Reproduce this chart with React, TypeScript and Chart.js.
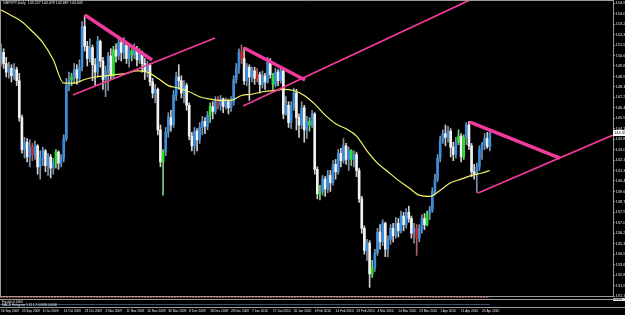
import React, { useEffect, useRef } from "react";
import { Chart, registerables } from "chart.js";

Chart.register(...registerables);

const TITLE = "GBPJPY,Daily  143.227 144.478 142.887 144.345";
const LAST_PRICE = "144.35";

const DATE_LABELS = [
  "16 Sep 2009", "25 Sep 2009", "6 Oct 2009", "14 Oct 2009", "23 Oct 2009", "3 Nov 2009",
  "11 Nov 2009", "20 Nov 2009", "30 Nov 2009", "8 Dec 2009", "18 Dec 2009", "28 Dec 2009",
  "7 Jan 2010", "17 Jan 2010", "26 Jan 2010", "4 Feb 2010", "14 Feb 2010", "23 Feb 2010",
  "4 Mar 2010", "14 Mar 2010", "23 Mar 2010", "1 Apr 2010", "11 Apr 2010", "20 Apr 2010",
];
const BARS_PER_LABEL = 8;

const Y_TICKS = [
  154.9, 154.05, 153.2, 152.35, 151.5, 150.65, 149.8, 148.95, 148.1, 147.25, 146.4, 145.55,
  144.7, 143.85, 143.0, 142.15, 141.3, 140.45, 139.6, 138.75, 137.9, 137.05, 136.2, 135.35,
  134.5, 133.65, 132.8, 131.95, 131.1,
];

const FIRST_OPEN = 150.2;
const CLOSE = [
  150.9, 150.0, 149.3, 149.6, 149.0, 149.5, 148.6, 145.6, 143.0, 143.6,
  142.4, 143.2, 142.6, 143.3, 141.6, 142.3, 142.9, 141.7, 142.4, 141.5,
  141.9, 142.8, 141.9, 142.3, 143.9, 148.2, 148.7, 148.9, 149.5, 148.8,
  149.7, 153.0, 151.4, 150.4, 151.3, 149.9, 149.3, 151.8, 150.2, 148.7,
  149.4, 150.6, 149.0, 151.1, 150.6, 151.7, 150.9, 151.5, 150.4, 151.0,
  150.7, 151.2, 150.3, 150.8, 150.0, 149.4, 149.9, 148.5, 147.6, 147.9,
  144.6, 142.0, 142.8, 144.4, 145.6, 145.0, 147.4, 148.9, 148.6, 147.6,
  148.2, 146.6, 144.1, 143.3, 144.5, 143.8, 144.8, 145.3, 144.9, 145.8,
  146.5, 146.1, 146.9, 146.6, 147.1, 146.5, 146.9, 146.4, 146.9, 148.7,
  149.6, 150.9, 150.4, 148.6, 149.7, 148.9, 149.4, 148.8, 149.1, 148.3,
  149.0, 148.5, 150.2, 149.1, 148.3, 149.3, 148.6, 149.4, 145.9, 146.6,
  145.2, 146.5, 147.6, 145.6, 145.0, 146.4, 144.6, 145.3, 145.0, 145.9,
  141.4, 139.4, 139.6, 140.6, 139.8, 140.9, 140.3, 141.8, 141.2, 142.7,
  142.1, 143.3, 142.2, 142.9, 142.2, 142.6, 141.3, 139.0, 136.6, 134.8,
  135.4, 132.9, 133.4, 134.6, 136.3, 135.5, 137.0, 134.9, 135.7, 136.6,
  136.0, 137.0, 136.4, 137.6, 136.9, 137.9, 137.4, 136.2, 136.6, 135.8,
  136.6, 137.4, 136.9, 137.8, 138.1, 139.6, 140.6, 142.3, 143.8, 144.3,
  144.0, 144.5, 143.2, 142.6, 143.6, 144.1, 142.4, 144.0, 145.0, 143.3,
  141.2, 141.0, 141.6, 143.0, 143.4, 143.9, 143.23, 144.35,
];
const HIGH = [
  151.6, 151.2, 150.5, 150.1, 149.9, 150.0, 149.7, 149.2, 145.8, 144.0,
  143.9, 143.8, 143.5, 143.7, 143.4, 142.9, 143.2, 143.0, 142.7, 142.6,
  142.3, 143.0, 142.9, 142.6, 144.2, 148.8, 149.3, 149.2, 150.0, 149.9,
  150.3, 153.4, 153.9, 151.8, 152.0, 151.5, 150.4, 152.2, 151.9, 150.5,
  149.8, 150.9, 151.2, 151.4, 151.6, 152.2, 152.0, 152.1, 151.7, 151.4,
  151.2, 151.6, 151.4, 151.2, 151.0, 150.4, 150.2, 150.0, 148.8, 148.3,
  148.0, 145.0, 143.0, 144.8, 146.0, 146.2, 147.8, 149.3, 149.9, 149.0,
  148.6, 148.4, 146.8, 144.4, 144.8, 144.7, 145.2, 145.7, 145.6, 146.1,
  146.8, 146.9, 147.3, 147.3, 147.4, 147.2, 147.2, 147.1, 147.3, 149.0,
  150.0, 151.2, 151.5, 151.3, 150.0, 149.9, 149.7, 149.7, 149.6, 149.3,
  149.4, 149.2, 150.5, 150.4, 149.2, 149.6, 149.5, 149.8, 149.6, 147.3,
  146.9, 146.9, 148.0, 147.9, 145.9, 146.9, 146.6, 145.7, 145.6, 146.2,
  146.0, 141.6, 140.1, 140.9, 140.8, 141.3, 141.3, 142.1, 142.2, 143.0,
  143.1, 143.9, 143.5, 143.2, 143.0, 142.9, 142.8, 141.5, 139.2, 136.8,
  135.7, 135.6, 134.0, 134.9, 136.6, 136.9, 137.3, 137.1, 136.0, 136.9,
  137.0, 137.5, 137.4, 138.0, 137.9, 138.2, 138.4, 137.6, 137.0, 136.9,
  136.9, 137.7, 137.8, 138.0, 138.4, 139.9, 141.0, 142.6, 144.1, 144.6,
  145.0, 144.9, 144.7, 143.6, 144.0, 144.6, 144.3, 144.2, 145.2, 145.3,
  143.5, 141.8, 141.9, 143.3, 143.6, 144.3, 144.4, 144.48,
];
const LOW = [
  149.8, 149.6, 148.9, 148.8, 148.5, 148.7, 148.2, 145.3, 142.7, 142.3,
  142.0, 141.6, 142.1, 142.2, 141.0, 140.6, 141.7, 141.2, 140.9, 140.7,
  141.0, 141.5, 141.4, 141.6, 142.0, 143.7, 147.8, 148.2, 148.4, 148.3,
  148.6, 149.4, 151.0, 149.8, 150.1, 148.6, 148.2, 148.9, 149.7, 147.9,
  147.3, 147.8, 148.7, 148.8, 150.1, 150.3, 150.2, 150.4, 150.0, 149.7,
  150.2, 150.4, 149.8, 150.0, 149.3, 148.7, 148.9, 148.2, 147.2, 146.8,
  144.2, 141.6, 139.3, 142.5, 144.0, 144.5, 144.8, 147.0, 147.9, 147.2,
  146.8, 146.2, 143.8, 142.9, 142.6, 142.9, 143.5, 144.2, 144.3, 144.6,
  145.2, 145.5, 145.9, 146.3, 146.2, 146.0, 146.3, 145.9, 146.1, 146.6,
  148.4, 149.2, 150.0, 148.3, 148.2, 147.0, 148.5, 148.3, 148.5, 147.6,
  148.0, 147.9, 148.4, 148.8, 147.9, 148.1, 148.2, 148.4, 145.5, 145.8,
  144.8, 144.7, 146.2, 144.6, 144.0, 144.7, 143.6, 143.9, 144.5, 144.8,
  141.0, 139.0, 138.9, 139.3, 139.2, 139.5, 139.6, 140.1, 140.6, 141.0,
  141.6, 141.9, 141.8, 141.3, 141.7, 141.6, 140.8, 138.7, 136.2, 134.5,
  134.0, 131.8, 132.6, 133.1, 134.4, 134.9, 135.2, 134.3, 134.3, 135.3,
  135.5, 135.8, 135.9, 136.2, 136.4, 136.6, 137.1, 135.8, 135.4, 134.4,
  135.5, 136.2, 136.5, 136.8, 137.3, 137.9, 139.3, 140.4, 142.0, 143.5,
  143.3, 143.6, 142.4, 142.1, 142.3, 143.4, 142.0, 142.2, 143.4, 143.0,
  140.8, 140.6, 139.5, 141.3, 142.2, 143.0, 143.1, 142.89,
];
const OPEN = [FIRST_OPEN, ...CLOSE.slice(0, -1)];

const GREEN_BARS = [21, 27, 43, 50, 62, 80, 104, 118, 122, 134, 142, 163, 175, 177];
const RED_BARS = [12, 83, 92, 98, 159];

const MA_IDX = [
  0, 4, 8, 12, 16, 20, 24, 28, 32, 36, 40, 44, 48, 52, 56, 60, 64, 68, 72, 76, 80, 84, 88, 92,
  96, 100, 104, 108, 112, 116, 120, 124, 128, 132, 136, 140, 144, 148, 152, 156, 160, 164, 168,
  172, 176, 180, 184, 187,
];
const MA_VAL = [
  154.35, 153.9, 153.4, 152.6, 151.7, 150.3, 148.4, 148.4, 148.7, 148.9, 149.0, 149.1, 149.2,
  149.4, 149.3, 148.8, 148.2, 148.0, 147.7, 147.3, 147.1, 147.0, 147.0, 147.4, 147.5, 147.7,
  147.8, 147.9, 147.8, 147.4, 146.7, 145.8, 145.1, 144.7, 144.1, 142.9, 141.9, 141.2, 140.5,
  139.9, 139.3, 139.2, 139.7, 140.3, 140.6, 140.9, 141.1, 141.3,
];

// trend lines: [barIndex, price] pairs
const WEDGE_1 = [[32.1, 153.94], [57.8, 150.28]];
const CHANNEL_1 = [[27.5, 147.44], [81.9, 152.07]];
const WEDGE_2 = [[93.0, 151.26], [116.3, 148.66]];
const CHANNEL_2 = [[92.6, 146.54], [179.4, 155.16]];
const WEDGE_3 = [[179.4, 145.24], [213.8, 142.31]];
const CHANNEL_3 = [[182.5, 139.47], [234.1, 144.19]];

const X_MIN = -0.38;
const X_MAX = 234.1;
const Y_MIN = 131.1;
const Y_MAX = 155.16;

const BLUE = "#3a8edc";
const WHITE = "#f2f2f2";
const GREEN = "#2ee02e";
const RED = "#d02020";
const PINK = "#f23a9c";
const YELLOW = "#f4f46a";
const FRAME = "#9a9a9a";

function bodyColor(i: number) {
  if (GREEN_BARS.includes(i)) return GREEN;
  if (RED_BARS.includes(i)) return RED;
  return CLOSE[i] >= OPEN[i] ? BLUE : WHITE;
}
function wickColor(i: number) {
  if (GREEN_BARS.includes(i)) return "#7fd07f";
  if (RED_BARS.includes(i)) return "#b06060";
  return CLOSE[i] >= OPEN[i] ? "#7d93ab" : "#cfcfcf";
}

const linePts = (pts: number[][]) => pts.map(([x, y]) => ({ x, y }));

const stripPlugin = {
  id: "mtStrip",
  afterDraw(chart: any) {
    const { ctx, chartArea: a } = chart;
    const xEnd = chart.scales.x.getPixelForValue(CLOSE.length - 1);
    ctx.save();
    ctx.lineWidth = 1;
    ctx.strokeStyle = FRAME;
    ctx.beginPath();
    ctx.moveTo(0.5, a.bottom);
    ctx.lineTo(0.5, a.top + 0.5);
    ctx.lineTo(a.right, a.top + 0.5);
    ctx.stroke();
    ctx.setLineDash([2, 1]);
    ctx.strokeStyle = "#b04040";
    ctx.beginPath();
    ctx.moveTo(0, a.bottom + 1.5);
    ctx.lineTo(xEnd, a.bottom + 1.5);
    ctx.stroke();
    ctx.setLineDash([]);
    ctx.strokeStyle = FRAME;
    ctx.beginPath();
    ctx.moveTo(0, a.bottom + 3.5);
    ctx.lineTo(625, a.bottom + 3.5);
    ctx.moveTo(0, a.bottom + 11.5);
    ctx.lineTo(625, a.bottom + 11.5);
    ctx.stroke();
    ctx.strokeStyle = "#34506e";
    ctx.beginPath();
    ctx.moveTo(0, a.bottom + 8.5);
    ctx.lineTo(xEnd, a.bottom + 8.5);
    ctx.stroke();
    ctx.restore();
  },
};

export default function App() {
  const ref = useRef<HTMLCanvasElement | null>(null);

  useEffect(() => {
    if (!ref.current) return;
    const trend = (pts: number[][], w: number) => ({
      type: "line" as const,
      data: linePts(pts),
      borderColor: PINK,
      borderWidth: w,
      pointRadius: 0,
      fill: false,
      order: 0,
    });
    const chart = new Chart(ref.current, {
      type: "bar",
      data: {
        datasets: [
          trend(WEDGE_1, 3.5),
          trend(CHANNEL_1, 1.8),
          trend(WEDGE_2, 3.5),
          trend(CHANNEL_2, 1.8),
          trend(WEDGE_3, 3.5),
          trend(CHANNEL_3, 1.8),
          {
            type: "line",
            data: MA_IDX.map((x, k) => ({ x, y: MA_VAL[k] })),
            borderColor: YELLOW,
            borderWidth: 1.2,
            pointRadius: 0,
            cubicInterpolationMode: "monotone",
            fill: false,
            order: 1,
          },
          {
            type: "bar",
            data: CLOSE.map((_, i) => ({ x: i, y: [OPEN[i], CLOSE[i]] })),
            backgroundColor: CLOSE.map((_, i) => bodyColor(i)),
            grouped: false,
            barPercentage: 1,
            categoryPercentage: 1,
            maxBarThickness: 2,
            minBarLength: 1,
            order: 2,
          },
          {
            type: "bar",
            data: CLOSE.map((_, i) => ({ x: i, y: [LOW[i], HIGH[i]] })),
            backgroundColor: CLOSE.map((_, i) => wickColor(i)),
            grouped: false,
            barPercentage: 1,
            categoryPercentage: 1,
            maxBarThickness: 1,
            order: 3,
          },
        ] as any,
      },
      options: {
        responsive: false,
        devicePixelRatio: 1,
        animation: false,
        layout: { padding: 0 },
        plugins: { legend: { display: false }, tooltip: { enabled: false } },
        events: [],
        scales: {
          x: {
            type: "linear",
            min: X_MIN,
            max: X_MAX,
            offset: false,
            grid: { display: false, drawTicks: false },
            border: { display: true, color: FRAME },
            afterBuildTicks: (s: any) => {
              s.ticks = DATE_LABELS.map((_, k) => ({ value: k * BARS_PER_LABEL }));
            },
            ticks: {
              autoSkip: false,
              maxRotation: 0,
              minRotation: 0,
              align: "start",
              padding: 13,
              color: "#e6e6e6",
              font: { size: 3.2, family: "'Liberation Sans', Arial, sans-serif" },
              callback: (_v: any, idx: number) => DATE_LABELS[idx],
            },
            afterFit: (s: any) => {
              s.height = 19;
              s.paddingLeft = 0;
              s.paddingRight = 0;
            },
          },
          y: {
            type: "linear",
            position: "right",
            min: Y_MIN,
            max: Y_MAX,
            grid: { drawOnChartArea: false, drawTicks: true, tickLength: 2, color: FRAME },
            border: { display: true, color: FRAME },
            afterBuildTicks: (s: any) => {
              s.ticks = Y_TICKS.map((v) => ({ value: v }));
            },
            ticks: {
              autoSkip: false,
              padding: 0.5,
              color: "#e6e6e6",
              font: { size: 4, family: "'Liberation Sans', Arial, sans-serif" },
              callback: (v: any) => Number(v).toFixed(2),
            },
            afterFit: (s: any) => {
              s.width = 12;
              s.paddingTop = 0;
              s.paddingBottom = 0;
            },
          },
        },
      } as any,
      plugins: [stripPlugin],
    });
    return () => chart.destroy();
  }, []);

  const tiny = {
    position: "absolute" as const,
    color: "#e6e6e6",
    whiteSpace: "pre" as const,
    lineHeight: 1,
    fontFamily: "'Liberation Sans', Arial, sans-serif",
  };

  return (
    <div
      style={{
        position: "fixed",
        left: 0,
        top: 0,
        width: 625,
        height: 315,
        background: "#000",
        overflow: "hidden",
      }}
    >
      <canvas
        ref={ref}
        width={625}
        height={315}
        style={{ position: "absolute", left: 0, top: 0, width: 625, height: 315 }}
      />
      <div style={{ ...tiny, left: 3, top: 2, fontSize: 3.6 }}>{TITLE}</div>
      <div style={{ ...tiny, left: 2, top: 300.5, fontSize: 3 }}>{"Fractals 0.0000"}</div>
      <div style={{ ...tiny, left: 2, top: 304, fontSize: 3 }}>{"MACD Histogram 5 13 1 2 0.0000 0.0000"}</div>
      <div
        style={{
          ...tiny,
          left: 613,
          top: 130,
          width: 12,
          height: 6,
          background: "#fff",
          color: "#000",
          fontSize: 4,
          lineHeight: "6px",
          paddingLeft: 1,
        }}
      >
        {LAST_PRICE}
      </div>
      <div
        style={{
          ...tiny,
          left: 613,
          top: 298,
          width: 12,
          height: 3,
          background: "#ddd",
          color: "#000",
          fontSize: 3,
          lineHeight: "3px",
        }}
      >
        {"0.0086"}
      </div>
    </div>
  );
}
